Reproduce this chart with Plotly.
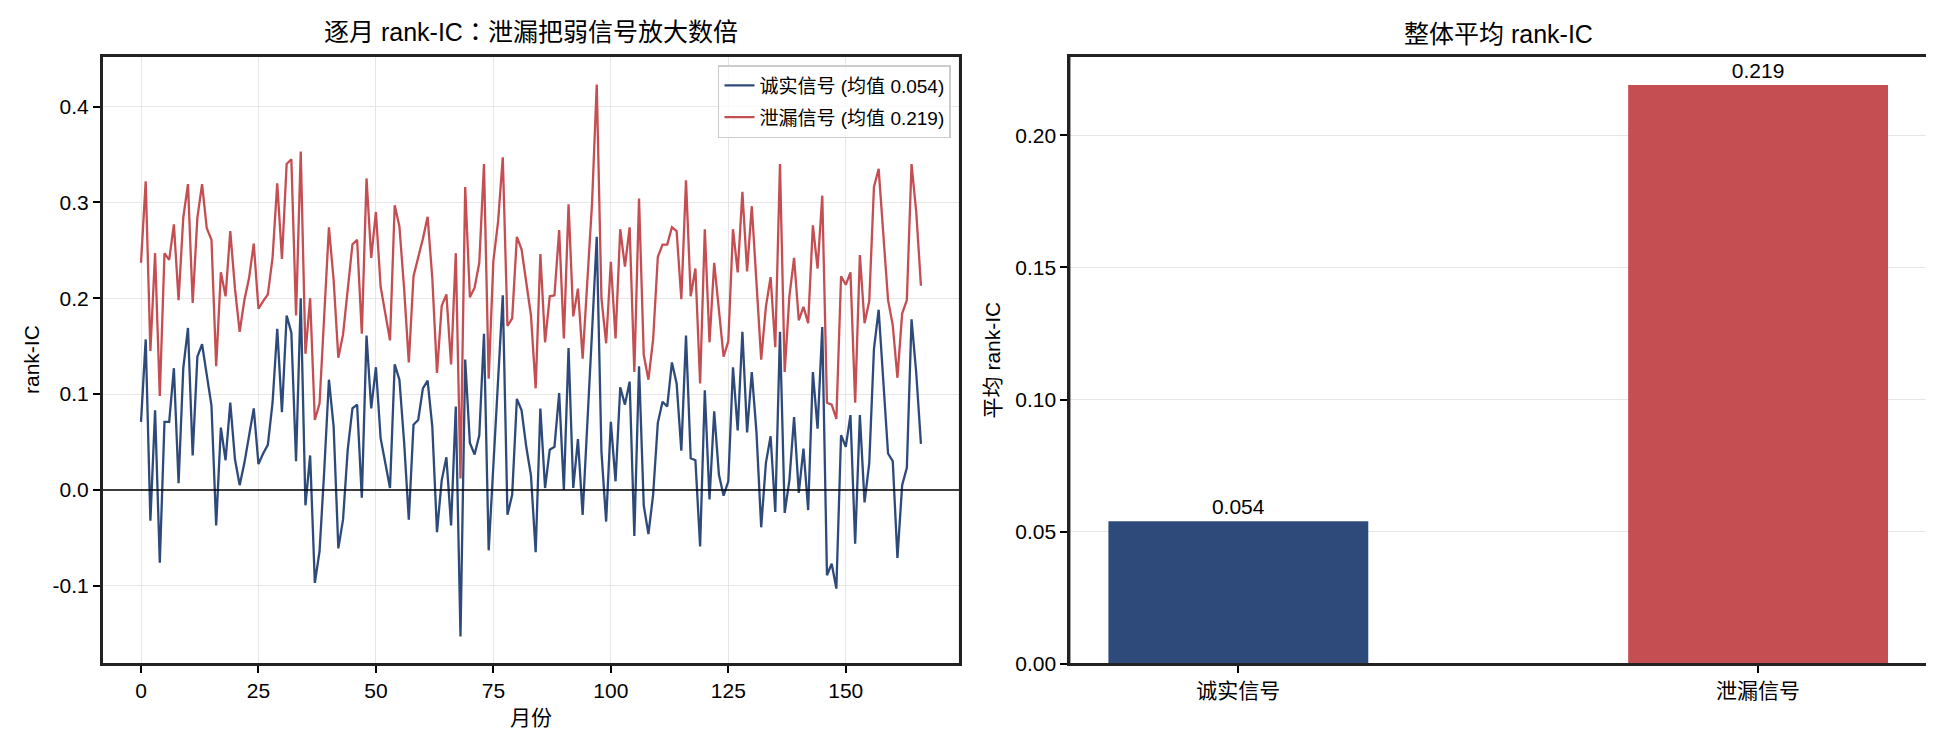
import plotly.graph_objects as go

# monthly rank-IC (months 0..166)
honest_ic = [
    0.071, 0.157, -0.032, 0.083, -0.076, 0.071, 0.071, 0.127, 0.007, 0.127,
    0.169, 0.036, 0.139, 0.152, 0.120, 0.088, -0.037, 0.065, 0.031, 0.091,
    0.032, 0.005, 0.028, 0.055, 0.085, 0.027, 0.038, 0.047, 0.091, 0.168,
    0.081, 0.182, 0.164, 0.030, 0.200, -0.016, 0.036, -0.097, -0.064, 0.020,
    0.115, 0.066, -0.061, -0.031, 0.042, 0.085, 0.089, -0.008, 0.161, 0.085,
    0.128, 0.054, 0.028, 0.002, 0.131, 0.115, 0.050, -0.031, 0.068, 0.073,
    0.106, 0.114, 0.066, -0.044, 0.010, 0.034, -0.037, 0.087, -0.153, 0.136,
    0.049, 0.037, 0.057, 0.163, -0.063, 0.030, 0.110, 0.203, -0.026, -0.005,
    0.095, 0.083, 0.045, 0.015, -0.065, 0.085, 0.002, 0.042, 0.045, 0.101,
    0.000, 0.148, 0.002, 0.053, -0.026, 0.065, 0.165, 0.264, 0.040, -0.033,
    0.071, 0.009, 0.107, 0.089, 0.113, -0.048, 0.129, -0.016, -0.046, -0.005,
    0.070, 0.092, 0.087, 0.133, 0.111, 0.041, 0.161, 0.033, 0.031, -0.059,
    0.104, -0.010, 0.082, 0.016, -0.006, 0.009, 0.128, 0.062, 0.165, 0.060,
    0.123, 0.060, -0.039, 0.028, 0.056, -0.023, 0.165, -0.024, 0.010, 0.076,
    -0.003, 0.043, -0.021, 0.123, 0.064, 0.170, -0.089, -0.077, -0.103, 0.057,
    0.045, 0.078, -0.056, 0.078, -0.013, 0.028, 0.147, 0.188, 0.113, 0.038,
    0.030, -0.071, 0.005, 0.023, 0.178, 0.122, 0.048,
]
leaked_ic = [
    0.237, 0.322, 0.145, 0.247, 0.098, 0.247, 0.240, 0.277, 0.198, 0.284,
    0.319, 0.195, 0.284, 0.319, 0.273, 0.261, 0.129, 0.227, 0.202, 0.270,
    0.210, 0.165, 0.198, 0.221, 0.257, 0.189, 0.197, 0.204, 0.242, 0.320,
    0.241, 0.340, 0.345, 0.182, 0.353, 0.142, 0.200, 0.073, 0.090, 0.180,
    0.274, 0.219, 0.138, 0.162, 0.209, 0.256, 0.261, 0.163, 0.325, 0.242,
    0.290, 0.212, 0.184, 0.156, 0.297, 0.275, 0.210, 0.133, 0.223, 0.242,
    0.262, 0.285, 0.221, 0.122, 0.192, 0.204, 0.131, 0.247, 0.012, 0.316,
    0.201, 0.211, 0.237, 0.340, 0.116, 0.239, 0.280, 0.347, 0.171, 0.179,
    0.264, 0.251, 0.215, 0.182, 0.106, 0.246, 0.154, 0.202, 0.203, 0.271,
    0.158, 0.298, 0.181, 0.210, 0.137, 0.219, 0.299, 0.423, 0.200, 0.153,
    0.238, 0.158, 0.272, 0.233, 0.274, 0.123, 0.304, 0.141, 0.115, 0.157,
    0.243, 0.256, 0.256, 0.274, 0.270, 0.199, 0.323, 0.202, 0.231, 0.111,
    0.272, 0.154, 0.237, 0.188, 0.139, 0.155, 0.272, 0.227, 0.311, 0.228,
    0.296, 0.216, 0.136, 0.191, 0.222, 0.149, 0.340, 0.123, 0.202, 0.242,
    0.177, 0.191, 0.174, 0.276, 0.231, 0.307, 0.091, 0.089, 0.074, 0.223,
    0.214, 0.227, 0.091, 0.245, 0.174, 0.197, 0.316, 0.335, 0.265, 0.198,
    0.172, 0.117, 0.184, 0.198, 0.340, 0.290, 0.213,
]
months = list(range(len(honest_ic)))

bar_labels = ["诚实信号", "泄漏信号"]
bar_means = [0.054, 0.219]

left_yticks = [-0.1, 0.0, 0.1, 0.2, 0.3, 0.4]
left_yticktext = ["-0.1", "0.0", "0.1", "0.2", "0.3", "0.4"]
left_xticks = [0, 25, 50, 75, 100, 125, 150]
right_yticks = [0.0, 0.05, 0.10, 0.15, 0.20]

BLUE = "#2e4a7b"
RED = "#c44e52"
FONT = "Liberation Sans, Noto Sans CJK SC, sans-serif"
GRID = "#e6e6e6"

fig = go.Figure()

fig.add_trace(go.Scatter(x=months, y=honest_ic, mode="lines",
                         line=dict(color=BLUE, width=2.3),
                         name="诚实信号 (均值 %.3f)" % bar_means[0],
                         legendgroup="a", xaxis="x", yaxis="y"))
fig.add_trace(go.Scatter(x=months, y=leaked_ic, mode="lines",
                         line=dict(color=RED, width=2.3),
                         name="泄漏信号 (均值 %.3f)" % bar_means[1],
                         legendgroup="b", xaxis="x", yaxis="y"))

fig.add_trace(go.Bar(x=[0, 1], y=bar_means, width=0.5,
                     marker=dict(color=[BLUE, RED], line=dict(width=0)),
                     text=["%.3f" % v for v in bar_means],
                     textposition="outside", cliponaxis=False,
                     textfont=dict(size=21, color="black"),
                     showlegend=False, xaxis="x2", yaxis="y2"))

# zero line on the left chart
fig.add_shape(type="line", xref="x domain", yref="y", x0=0, x1=1, y0=0, y1=0,
              line=dict(color="black", width=1.5))
# axes frames, drawn edge by edge
for xr, yr in (("x domain", "y domain"), ("x2 domain", "y2 domain")):
    for x0, y0, x1, y1 in ((0, 0, 1, 0), (0, 1, 1, 1), (0, 0, 0, 1), (1, 0, 1, 1)):
        fig.add_shape(type="line", xref=xr, yref=yr, x0=x0, y0=y0, x1=x1, y1=y1,
                      line=dict(color="#222222", width=2), layer="above")

axis_common = dict(showline=True, linecolor="#222222", linewidth=2, mirror=True,
                   ticks="outside", ticklen=7, tickwidth=1.6,
                   tickcolor="black", zeroline=False,
                   tickfont=dict(size=21, color="black"))

fig.update_layout(
    width=1934, height=732,
    margin=dict(l=94, r=15, t=48, b=76),
    paper_bgcolor="white", plot_bgcolor="white",
    font=dict(family=FONT, color="black"),
    xaxis=dict(domain=[0, 0.4701], range=[-8.3, 174.3], tickvals=left_xticks,
               showgrid=True, gridcolor=GRID, gridwidth=1.4, anchor="y", **axis_common),
    yaxis=dict(domain=[0, 1], range=[-0.1816, 0.4527], tickvals=left_yticks,
               ticktext=left_yticktext, showgrid=True, gridcolor=GRID,
               gridwidth=1.4, anchor="x", **axis_common),
    xaxis2=dict(domain=[0.5301, 1], range=[-0.325, 1.325], tickvals=[0, 1],
                ticktext=bar_labels, showgrid=False, anchor="y2", **axis_common),
    yaxis2=dict(domain=[0, 1], range=[0, 0.23], tickvals=right_yticks,
                tickformat=".2f", showgrid=True, gridcolor=GRID, gridwidth=1.4,
                anchor="x2", **axis_common),
    legend=dict(x=0.4652, y=0.985, xanchor="right", yanchor="top",
                bgcolor="rgba(255,255,255,0.8)", bordercolor="#cccccc",
                borderwidth=1.5, tracegroupgap=4,
                font=dict(size=19, color="black")),
    showlegend=True,
)

colon = '<span style="font-family:Noto Sans CJK TC">：</span>'
annotations = [
    dict(text="逐月 rank-IC" + colon + "泄漏把弱信号放大数倍", x=0.4701 / 2, y=1,
         xref="paper", yref="paper", xanchor="center", yanchor="bottom",
         yshift=6, showarrow=False, font=dict(size=25)),
    dict(text="整体平均 rank-IC", x=(0.5301 + 1) / 2, y=1,
         xref="paper", yref="paper", xanchor="center", yanchor="bottom",
         yshift=6, showarrow=False, font=dict(size=25)),
    dict(text="月份", x=0.4701 / 2, y=0, xref="paper", yref="paper",
         xanchor="center", yanchor="middle", yshift=-53, showarrow=False,
         font=dict(size=21)),
    dict(text="rank-IC", x=0, y=0.5, xref="paper", yref="paper",
         xanchor="center", yanchor="middle", xshift=-71, textangle=-90,
         showarrow=False, font=dict(size=21)),
    dict(text="平均 rank-IC", x=0.5301, y=0.5, xref="paper", yref="paper",
         xanchor="center", yanchor="middle", xshift=-77, textangle=-90,
         showarrow=False, font=dict(size=21)),
]
fig.update_layout(annotations=annotations)

fig.write_html("out.html")
